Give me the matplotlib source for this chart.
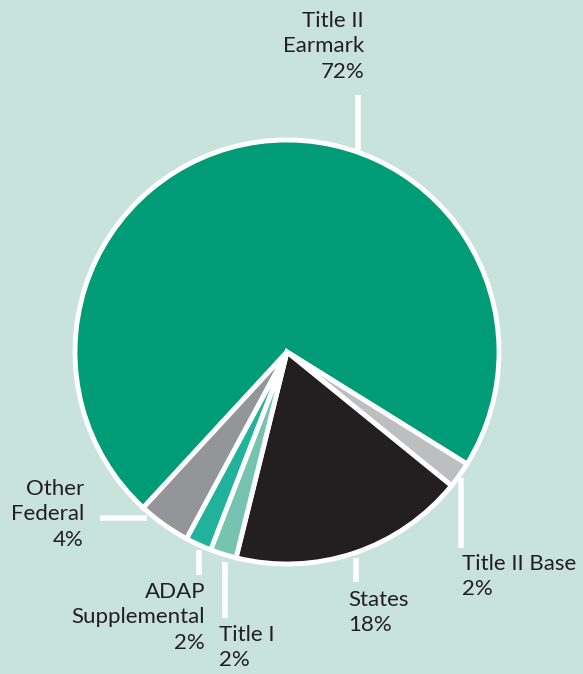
import matplotlib
matplotlib.use("Agg")
import matplotlib.pyplot as plt

categories = ["Title II Earmark", "Title II Base", "States", "Title I", "ADAP Supplemental", "Other Federal"]
values = [72, 2, 18, 2, 2, 4]
labels = ["Title II\nEarmark\n72%", "Title II Base\n2%", "States\n18%", "Title I\n2%", "ADAP\nSupplemental\n2%", "Other\nFederal\n4%"]
colors = ["#009B77", "#BCBEC0", "#231F20", "#76C4B0", "#20B29A", "#939598"]

BG = "#C8E3DC"
W, H = 583, 674
fig = plt.figure(figsize=(W / 100, H / 100), dpi=100, facecolor=BG)
ax = fig.add_axes([0, 0, 1, 1])
ax.set_facecolor(BG)

def Y(py):
    return H - py

cx, cy, r = 287, 352, 212
ax.pie(values, colors=colors, startangle=227.3, counterclock=False,
       center=(cx, Y(cy)), radius=r, frame=True,
       wedgeprops=dict(edgecolor="white", linewidth=3.5, joinstyle="miter"))
ax.set_xlim(0, W)
ax.set_ylim(0, H)
ax.set_aspect("equal")
ax.axis("off")

lw = 4
# leader lines (pixel coords)
leaders = [
    ((358, 95), (358, 150)),
    ((461, 478), (461, 548)),
    ((356, 558), (356, 582)),
    ((225, 562), (225, 618)),
    ((199, 550), (199, 575)),
    ((100, 518), (147, 518)),
]
for (x0, y0), (x1, y1) in leaders:
    ax.plot([x0, x1], [Y(y0), Y(y1)], color="white", lw=lw, solid_capstyle="butt", zorder=5)

font = dict(family=["Lato", "DejaVu Sans"], fontsize=16, color="#231F20", linespacing=1.33)
# label positions: (x, top y, ha)
label_pos = [
    (364, 11, "right"),
    (462, 554, "left"),
    (348, 590, "left"),
    (219, 625, "left"),
    (205, 582, "right"),
    (84, 479, "right"),
]
for lab, (x, y, ha) in zip(labels, label_pos):
    ax.text(x, Y(y), lab, ha=ha, va="top", multialignment=ha, **font)

fig.savefig("out.png", dpi=100, facecolor=BG)
